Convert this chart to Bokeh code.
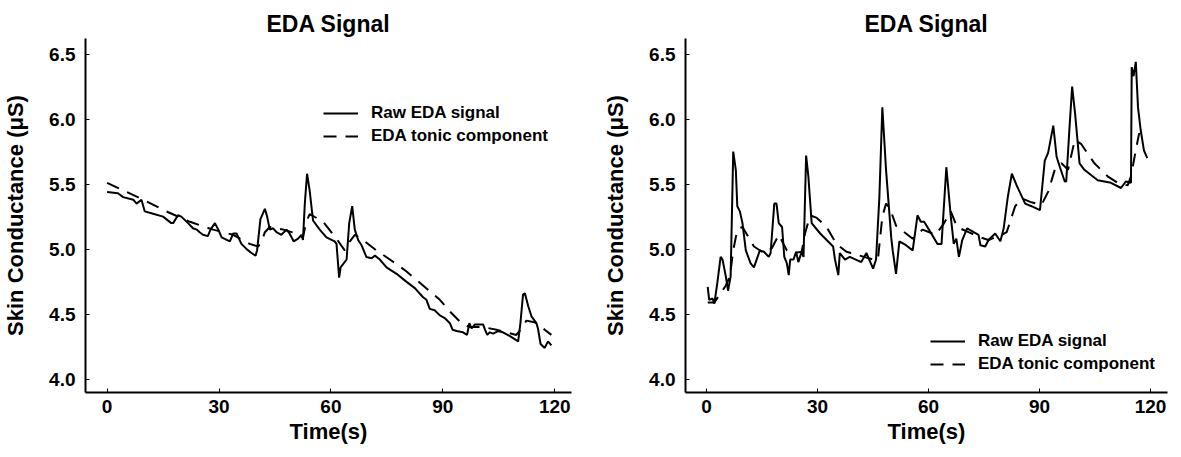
from bokeh.plotting import figure
from bokeh.layouts import row
from bokeh.models import FixedTicker, Legend, LegendItem, Range1d, NumeralTickFormatter
from bokeh.embed import file_html
from bokeh.resources import INLINE

# ---------------- data ----------------
left_raw_t = [0, 2.9, 4.3, 7, 7.9, 9.2, 10.1, 11.4, 15, 17.2, 17.7, 19, 19.9, 21.7, 23, 24, 24.8, 25.7, 27,
              27.7, 28.9, 29.8, 30.7, 32.9, 33.8, 34.7, 36, 37.4, 38.7, 39.8, 40.2, 41.1, 42.3, 42.9, 43.6,
              44.5, 45.4, 46.7, 48.1, 48.9, 50, 51.2, 52.1, 52.5, 53, 53.6, 54.3, 55.2, 57, 58.8, 61, 61.5,
              61.9, 62.2, 62.6, 64.2, 64.9, 65.7, 66.4, 67.3, 68.2, 69.5, 70.9, 71.8, 73.1, 74.9, 77.6, 80.2,
              82.5, 84.7, 85.6, 86.5, 87.8, 89.2, 90.5, 91.9, 92.6, 93.7, 95.4, 96.5, 97.1, 97.7, 98.6, 100.8,
              101.3, 101.9, 102.6, 103.5, 104.8, 106.1, 108, 110.2, 110.8, 111.5, 112, 112.9, 113.8, 115.1,
              115.5, 116.2, 117.3, 118.2, 119.1]
left_raw_v = [5.44, 5.43, 5.40, 5.38, 5.35, 5.38, 5.29, 5.28, 5.25, 5.20, 5.20, 5.26, 5.25, 5.20, 5.16, 5.15,
              5.13, 5.11, 5.10, 5.15, 5.20, 5.15, 5.09, 5.06, 5.12, 5.12, 5.04, 5.00, 4.97, 4.95, 4.99, 5.23,
              5.31, 5.25, 5.15, 5.16, 5.13, 5.11, 5.15, 5.12, 5.06, 5.08, 5.11, 5.07, 5.35, 5.58, 5.45, 5.22,
              5.15, 5.09, 5.06, 5.04, 4.89, 4.78, 4.86, 4.92, 5.20, 5.33, 5.15, 5.07, 5.03, 4.94, 4.93, 4.95,
              4.92, 4.86, 4.81, 4.75, 4.70, 4.63, 4.61, 4.54, 4.53, 4.49, 4.47, 4.43, 4.38, 4.37, 4.36, 4.34,
              4.43, 4.39, 4.42, 4.42, 4.38, 4.34, 4.36, 4.35, 4.37, 4.36, 4.33, 4.29, 4.43, 4.65, 4.66, 4.56,
              4.48, 4.43, 4.39, 4.27, 4.24, 4.29, 4.26]

left_tonic_t = [0, 9.7, 15.9, 22.2, 28.4, 33.8, 38.2, 40.5, 41.4, 42.3, 43.6, 47.2, 50.8, 52.5, 53.3, 54.3,
                57.9, 61.5, 63.7, 65.1, 66.4, 68.6, 72.2, 75.8, 80.2, 84.7, 89.2, 91.9, 95, 97.2, 100.8,
                104.4, 109.7, 111.1, 112.4, 114.2, 116, 117.3, 119.1]
left_tonic_v = [5.51, 5.38, 5.29, 5.21, 5.15, 5.11, 5.04, 5.02, 5.06, 5.13, 5.17, 5.15, 5.12, 5.09, 5.20, 5.27,
                5.21, 5.08, 4.99, 5.06, 5.11, 5.07, 4.99, 4.92, 4.83, 4.72, 4.61, 4.52, 4.43, 4.40, 4.40,
                4.38, 4.34, 4.39, 4.45, 4.44, 4.42, 4.38, 4.34]

right_raw_t = [0.3, 0.7, 1.6, 2.1, 2.9, 3.8, 4.3, 5.2, 5.8, 6.5, 7.2, 7.9, 8.3, 9, 9.7, 10.6, 11.9, 12.8, 14.4,
               15.5, 16.8, 17.3, 18.3, 18.9, 19.5, 20.4, 21, 21.7, 22.2, 22.6, 23.5, 24.2, 24.8, 25.7, 26.2,
               26.9, 27.5, 28.4, 30.7, 34.2, 34.7, 35.6, 36, 37.4, 38.7, 41.8, 43.2, 45, 45.8, 46.7, 47.5,
               48.5, 49.9, 50.3, 51.2, 52.1, 53.9, 55.7, 57, 57.9, 58.8, 60.1, 62.4, 63.5, 64.8, 66, 66.8,
               67.5, 68.2, 69.1, 70.4, 72.2, 73.5, 74, 75.3, 76.2, 78, 79.4, 80.3, 81.4, 82.5, 83.8, 86.1,
               87.8, 90.1, 91.4, 92.3, 93.7, 94.6, 95.5, 96.8, 97.2, 98.1, 98.8, 99.6, 100.8, 102.1, 105.7,
               109.3, 112, 113.3, 114.7, 114.9, 115.4, 116, 116.6, 117.3, 118.2, 119.1]
right_raw_v = [4.71, 4.61, 4.62, 4.58, 4.74, 4.94, 4.92, 4.79, 4.68, 4.79, 5.75, 5.61, 5.33, 5.29, 5.20, 4.99,
               4.89, 4.86, 4.99, 4.98, 4.94, 4.97, 5.35, 5.35, 5.20, 5.17, 4.94, 4.89, 4.80, 4.92, 4.92, 4.98,
               4.90, 4.98, 4.94, 5.72, 5.56, 5.20, 5.12, 5.02, 4.92, 4.80, 4.97, 4.92, 4.94, 4.90, 4.97, 4.85,
               4.92, 5.40, 6.09, 5.61, 5.09, 4.99, 4.81, 5.06, 5.03, 4.99, 5.26, 5.21, 5.21, 5.15, 5.04, 5.04,
               5.63, 5.25, 5.04, 5.08, 4.94, 5.07, 5.16, 5.13, 5.11, 5.03, 5.02, 5.07, 5.12, 5.06, 5.16, 5.40,
               5.58, 5.49, 5.35, 5.33, 5.30, 5.68, 5.74, 5.95, 5.71, 5.63, 5.52, 5.52, 5.94, 6.25, 6.04, 5.66,
               5.61, 5.53, 5.51, 5.47, 5.52, 5.51, 6.40, 6.33, 6.44, 6.09, 5.92, 5.76, 5.70]

right_tonic_t = [0.3, 2.1, 3.8, 5.2, 6.3, 7.2, 8.3, 9.7, 12.8, 15.5, 17.7, 19.5, 21.7, 23.5, 25.7, 26.6, 28,
                 29.8, 32.4, 35.1, 37.8, 41.4, 45, 46.3, 47.5, 48.5, 49.6, 51.2, 53.9, 55.7, 58.4, 61.9,
                 64.2, 66, 67.7, 70.8, 74, 76.2, 79.8, 81.1, 83.4, 85.2, 87.8, 90.5, 92.3, 94.1, 95.9, 97.7,
                 99.5, 101.2, 104.8, 108.4, 111.1, 113.8, 114.7, 116, 116.9, 117.8]
right_tonic_v = [4.59, 4.59, 4.66, 4.72, 4.79, 4.99, 5.15, 5.17, 5.02, 4.97, 5.01, 5.11, 4.99, 4.97, 4.98,
                 5.12, 5.26, 5.24, 5.17, 5.04, 4.98, 4.95, 4.92, 4.92, 5.25, 5.35, 5.31, 5.18, 5.12, 5.08,
                 5.15, 5.11, 5.20, 5.29, 5.17, 5.13, 5.09, 5.07, 5.11, 5.13, 5.33, 5.39, 5.36, 5.34, 5.44,
                 5.61, 5.66, 5.61, 5.84, 5.81, 5.66, 5.56, 5.51, 5.49, 5.56, 5.76, 5.89, 5.86]

x_ticks = [0, 30, 60, 90, 120]
y_ticks = [4.0, 4.5, 5.0, 5.5, 6.0, 6.5]
title_text = "EDA Signal"
x_label = "Time(s)"
y_label = "Skin Conductance (\u03bcS)"
legend_labels = ["Raw EDA signal", "EDA tonic component"]

FONT = "Liberation Sans"


def make_plot(raw_t, raw_v, ton_t, ton_v, xr, frame_w, border_l, border_r, legend_loc):
    p = figure(frame_width=frame_w, frame_height=354,
               min_border_left=border_l, min_border_right=border_r,
               min_border_top=31, min_border_bottom=56,
               x_range=Range1d(*xr), y_range=Range1d(3.897, 6.62),
               output_backend="svg", toolbar_location=None, tools="")
    p.title.text = title_text
    p.title.align = "center"
    p.title.text_font = FONT
    p.title.text_font_size = "23px"
    p.title.text_font_style = "bold"
    p.title.text_color = "black"
    p.title.standoff = 3
    p.title.padding = (0, 0, 7, 0)
    p.outline_line_color = None
    p.xgrid.visible = False
    p.ygrid.visible = False
    p.background_fill_color = "white"
    p.border_fill_color = "white"

    r1 = p.line(raw_t, raw_v, line_color="black", line_width=2)
    r2 = p.line(ton_t, ton_v, line_color="black", line_width=2, line_dash="13 9")

    for ax in (p.xaxis[0], p.yaxis[0]):
        ax.axis_line_width = 2
        ax.axis_line_color = "black"
        ax.major_tick_in = 4
        ax.major_tick_out = 0
        ax.major_tick_line_width = 1
        ax.major_tick_line_color = "black"
        ax.minor_tick_line_color = None
        ax.major_label_text_font = FONT
        ax.major_label_text_font_size = "19px"
        ax.major_label_text_font_style = "bold"
        ax.major_label_text_color = "black"
        ax.axis_label_text_font = FONT
        ax.axis_label_text_font_size = "22px"
        ax.axis_label_text_font_style = "bold"
        ax.axis_label_text_color = "black"

    p.xaxis.ticker = FixedTicker(ticks=x_ticks)
    p.yaxis.ticker = FixedTicker(ticks=y_ticks)
    p.yaxis.formatter = NumeralTickFormatter(format="0.0")
    p.xaxis.axis_label = x_label
    p.yaxis.axis_label = y_label
    p.xaxis.major_label_standoff = 7
    p.xaxis.axis_label_standoff = 3
    p.yaxis.major_label_standoff = 10
    p.yaxis.axis_label_standoff = 18

    legend = Legend(items=[LegendItem(label=legend_labels[0], renderers=[r1]),
                           LegendItem(label=legend_labels[1], renderers=[r2])],
                    location=legend_loc, orientation="vertical",
                    glyph_width=35, glyph_height=20, label_height=20, spacing=3,
                    label_standoff=13, padding=0, margin=0,
                    border_line_color=None, background_fill_alpha=0,
                    label_text_font=FONT, label_text_font_size="17px",
                    label_text_font_style="bold", label_text_color="black")
    p.add_layout(legend, "center")
    return p


p1 = make_plot(left_raw_t, left_raw_v, left_tonic_t, left_tonic_v,
               (-5.8, -5.8 + 486 / 3.73), 486, 81, 12, (238, 246))
p2 = make_plot(right_raw_t, right_raw_v, right_tonic_t, right_tonic_v,
               (-5.7, -5.7 + 482 / 3.70), 482, 102, 2, (245, 18))

layout = row(p1, p2)
open("out.html", "w").write(file_html(layout, INLINE))
